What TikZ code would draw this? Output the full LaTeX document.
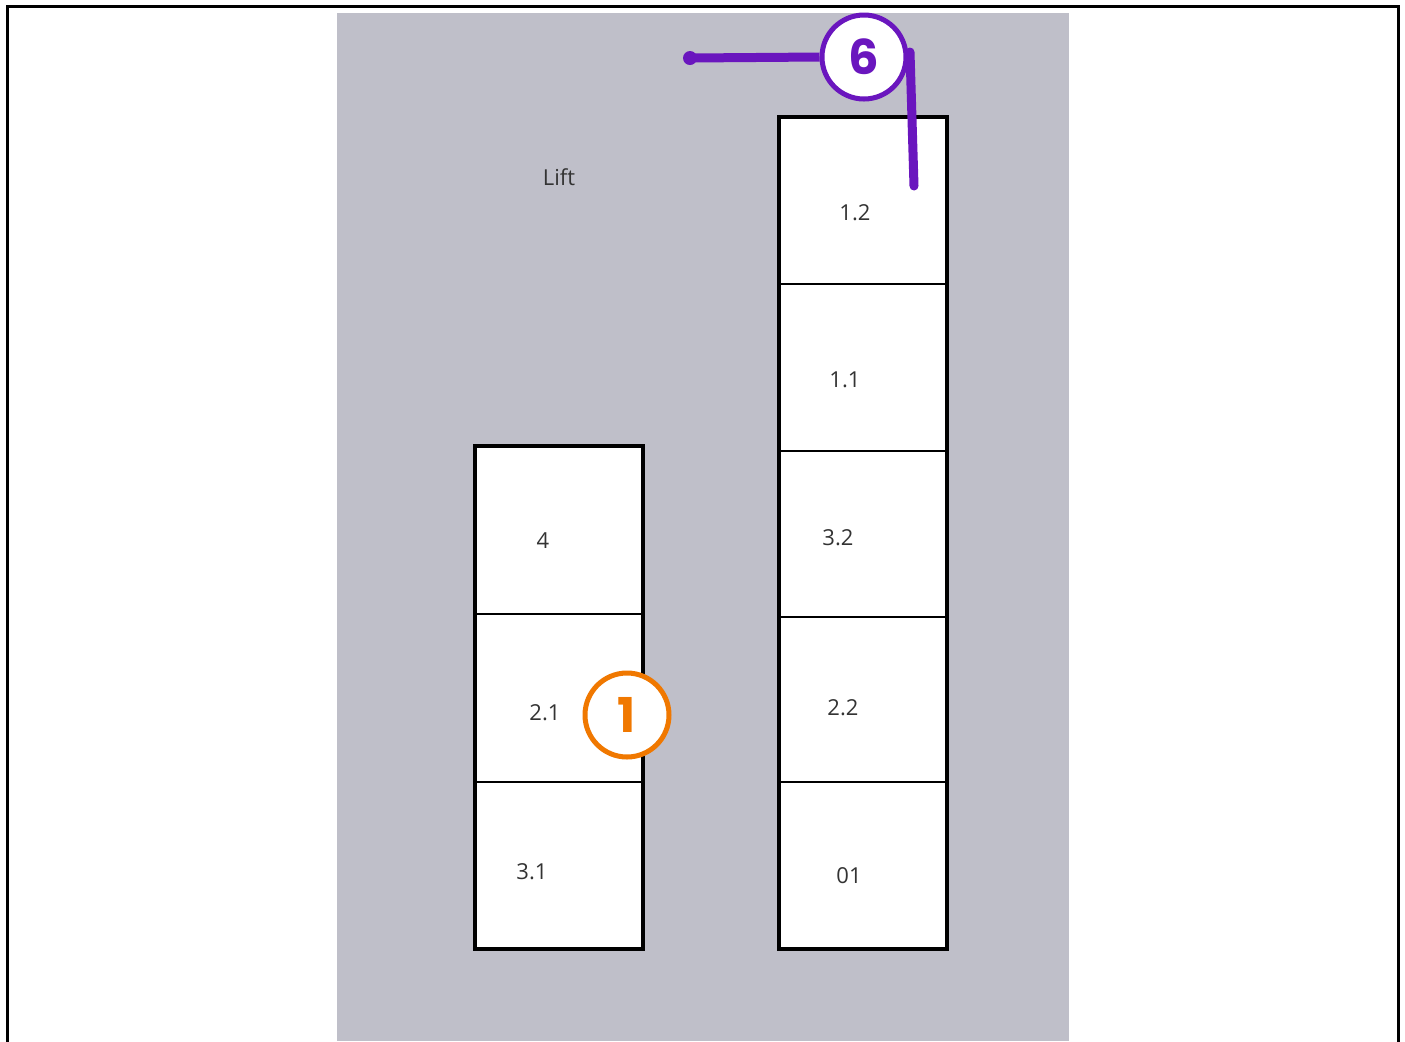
\documentclass[tikz,border=0pt]{standalone}
\usepackage{fontspec}
\setmainfont{Open Sans}
\newfontfamily\badgefont{Poppins}
\definecolor{liftgrey}{RGB}{191,191,201}
\definecolor{badgepurple}{RGB}{106,22,190}
\definecolor{badgeorange}{RGB}{240,120,0}
\definecolor{labelgrey}{RGB}{51,51,51}
\begin{document}
\begin{tikzpicture}[x=0.5pt,y=-0.5pt,
  cell/.style={draw, line width=0.75pt, fill=white, minimum width=84pt, minimum height=84pt, inner sep=0pt, outer sep=0pt},
  cellnum/.style={text=labelgrey, font=\fontsize{11}{13}\selectfont},
  badge/.style={circle, draw=#1, line width=2.5pt, fill=white, minimum size=42pt, inner sep=0pt, text=#1, font=\badgefont\bfseries\fontsize{24}{28}\selectfont}]

\useasboundingbox (0,0) rectangle (1405,1041);

% Frame and floor
\draw[line width=1.5pt] (7,1050) -- (7,6) -- (1398,6) -- (1398,1050);
\fill[liftgrey] (337,13) rectangle (1069,1041);
\node[cellnum] (lift) at (559,177) {Lift};

% Left stack
\node[cell] (l4) at (559,530) {};
\node[cell] (l21) at (559,698) {};
\node[cell, minimum height=83.5pt] (l31) at (559,865.5) {};
\draw[line width=1.6pt] (l4.north west) rectangle (l31.south east);
\node[cellnum] (t4) at (543,541) {4};
\node[cellnum] (t21) at (545,713) {2.1};
\node[cellnum] (t31) at (532,872) {3.1};

% Right stack
\node[cell, minimum height=83.5pt] (r12) at (863,200.5) {};
\node[cell, minimum height=83.5pt] (r11) at (863,367.5) {};
\node[cell, minimum height=83pt] (r32) at (863,534) {};
\node[cell, minimum height=82.5pt] (r22) at (863,699.5) {};
\node[cell, minimum height=83.5pt] (r01) at (863,865.5) {};
\draw[line width=1.6pt] (r12.north west) rectangle (r01.south east);
\node[cellnum] (t12) at (855,213) {1.2};
\node[cellnum] (t11) at (845,380) {1.1};
\node[cellnum] (t32) at (838,538) {3.2};
\node[cellnum] (t22) at (843,708) {2.2};
\node[cellnum] (t01) at (849,876) {01};

% Badge 6
\coordinate (b6end) at (690,58);
\coordinate (b6top) at (910,52);
\coordinate (b6foot) at (914,186);
\node[badge=badgepurple] (b6) at (864,57) {6};
\draw[badgepurple, line width=4.5pt] (b6end) -- (b6.west);
\fill[badgepurple] (b6end) circle (7);
\draw[badgepurple, line width=4.5pt, line cap=round] (b6top) -- (b6foot);

% Badge 1
\node[badge=badgeorange] (b1) at (627,715) {1};

\end{tikzpicture}
\end{document}
